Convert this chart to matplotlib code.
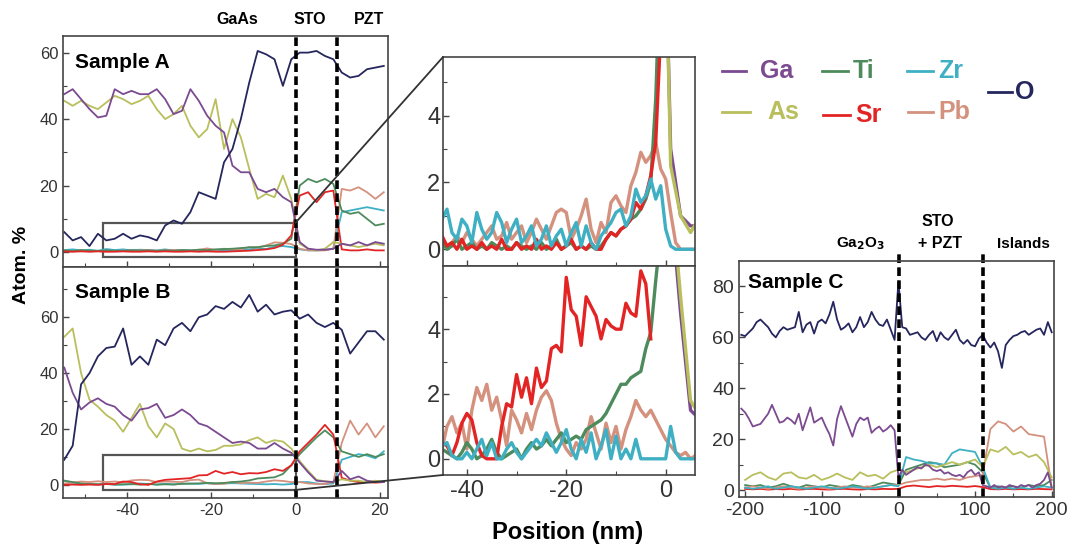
import numpy as np
import matplotlib.pyplot as plt
from matplotlib.patches import Rectangle, ConnectionPatch
from matplotlib.lines import Line2D

plt.rcParams['font.family'] = ['Liberation Sans', 'DejaVu Sans']
plt.rcParams['axes.unicode_minus'] = False

# element colours
c_ga = '#7b4a90'
c_as = '#b8bf5c'
c_ti = '#4d8b5d'
c_sr = '#e32424'
c_zr = '#3fb0c4'
c_pb = '#d4917e'
c_o = '#26265e'

# ---- sample A / B depth profiles (nm, atom. %) ----
x_ab = np.arange(-55, 23, 2)

ga_a = [47.5, 49, 46, 43, 40.5, 41, 49, 47.5, 48.5, 47.5,
        47.5, 49, 46, 41.5, 42.5, 49, 45.5, 41, 38, 36,
        26, 24, 24, 19, 18, 19, 16.5, 15, 3, 1,
        0.7, 0.7, 1, 2.5, 2, 3, 2, 3, 2.5]
as_a = [45.5, 44, 45.5, 44, 43, 45, 47, 46, 44.5, 45.5,
        47, 43, 40, 41.5, 44, 38, 34.5, 37, 46, 31,
        40, 34.5, 25, 16, 17.5, 16.5, 23, 16, 2.5, 1,
        0.5, 1, 3, 2.5, 2, 1.5, 2, 2.5, 2]
o_a = [6, 3.5, 4.5, 1.8, 5.5, 3.5, 4, 5.5, 4, 5,
       4.5, 3.5, 8, 9.5, 8.5, 12, 18, 17, 16, 27,
       31, 40, 51, 60.5, 59.5, 58, 50, 58, 60, 60,
       60.5, 59, 58, 54, 52.5, 53, 55, 55.5, 56]
ti_a = [0.5, 0.3, 0.6, 0.4, 0.3, 0.5, 0.4, 0.3, 0.6, 0.4,
        0.5, 0.3, 0.5, 0.4, 0.6, 0.5, 0.7, 0.6, 0.8, 0.9,
        1.0, 1.2, 1.4, 1.5, 1.8, 2.0, 2.5, 4.0, 20, 22,
        21, 22, 20.5, 12.5, 11.5, 12, 10, 8, 8.5]
sr_a = [0.2, 0.1, 0.2, 0.1, 0.2, 0.1, 0.1, 0.2, 0.1, 0.1,
        0.2, 0.1, 0.2, 0.1, 0.1, 0.2, 0.1, 0.2, 0.1, 0.1,
        0.2, 0.3, 0.4, 0.6, 0.8, 1.2, 2.2, 5, 17, 18,
        15, 18, 18.5, 0.8, 0.5, 0.5, 0.8, 0.5, 0.5]
zr_a = [0.6, 0.8, 0.5, 0.7, 0.4, 0.9, 0.6, 0.8, 0.5, 0.7,
        0.6, 0.5, 0.8, 0.4, 0.6, 0.5, 0.6, 0.4, 0.7, 0.5,
        0.4, 0.6, 0.8, 1.1, 0.9, 1.6, 1.8, 1.5, 0.8, 0.5,
        0.5, 0.6, 1.0, 12, 12.5, 13, 13.5, 13, 12.5]
pb_a = [0.3, 0.2, 0.4, 0.2, 0.3, 0.2, 0.3, 0.4, 0.3, 0.5,
        0.6, 0.4, 0.5, 0.6, 0.5, 0.4, 0.7, 1.1, 0.6, 1.0,
        0.8, 0.8, 1.5, 1.3, 2.0, 2.9, 2.8, 2.4, 1.0, 0.5,
        0.5, 0.5, 1.0, 19, 18.5, 19.5, 18, 16, 18]

o_b = [9, 14, 36, 40, 46, 49, 49.5, 56, 43, 46,
       43, 52, 50, 56, 58, 55, 60, 61, 64, 63,
       65.5, 63.5, 68, 62, 64.5, 61, 62, 62.5, 59.5, 61,
       58, 56.5, 58, 55.5, 47, 51, 55, 55, 52]
ga_b = [42, 33, 27, 29.5, 31, 29, 28, 25, 23, 27,
        27.5, 29, 24, 25, 27, 25, 22, 21, 19, 17,
        15, 15.5, 15, 13, 13, 15, 13, 11.5, 8, 4.5,
        1.5, 1.2, 1, 5, 2, 3, 1.5, 1, 1]
as_b = [53, 56, 40, 30.5, 28, 25, 23, 19, 24, 29,
        21, 17, 22, 20, 13, 12, 13, 12, 12.5, 14,
        14, 14.5, 16, 17, 15, 16, 15.5, 13, 8.5, 5,
        1.8, 1.3, 1, 2, 1.5, 1.5, 1, 1.5, 1]
ti_b = [1.5, 1.0, 0.5, 0.3, 0.2, 0.3, 0.1, 0.2, 0.3, 0.1,
        0.4, 0.1, 0.2, 0.1, 0.4, 0.4, 0.5, 0.7, 0.6, 0.7,
        1.0, 1.2, 1.6, 2.3, 2.5, 2.7, 3.9, 7, 11, 14,
        17, 19.5, 17, 12, 11, 10, 11, 10, 11]
sr_b = [0.0, 0.1, 0.0, 0.1, 0.0, 0.3, 0.3, 1.2, 1.0, 0.2,
        0.0, 1.2, 1.8, 2.0, 2.2, 2.4, 3.4, 3.5, 5.0, 4.0,
        4.6, 3.8, 4.2, 4.1, 4.6, 5.6, 5.0, 7, 12, 15,
        18, 21.5, 18, 2.5, 1.5, 1.0, 1.0, 0.8, 1.0]
zr_b = [1.5, 0.8, 0.4, 0.3, 0.2, 0.4, 0.1, 0.1, 0.2, 0.5,
        0.3, 0.1, 0.4, 0.2, 0.4, 0.5, 0.4, 0.6, 0.3, 0.5,
        0.6, 0.5, 0.4, 0.3, 0.2, 0.3, 0.1, 0.3, 1.0, 1.0,
        0.5, 0.3, 0.5, 9, 10, 11, 10.5, 9.5, 12]
pb_b = [0.5, 0.8, 1.2, 1.0, 1.3, 1.0, 1.2, 0.9, 1.6, 1.8,
        1.7, 1.0, 1.2, 1.1, 1.0, 1.7, 1.9, 0.6, 0.3, 0.4,
        1.0, 0.6, 0.8, 0.7, 1.2, 1.6, 1.4, 1.0, 1.0, 0.5,
        0.3, 0.3, 1.0, 15, 23, 18, 22, 17, 21]

# ---- fine profiles for the magnified windows ----
x_zoom = np.arange(-45, 7, 1)

zr_a_zoom = [0.9, 1.2, 0.5, 0.3, 0.9, 0.7, 0.2, 1.1, 0.6, 0.3,
             0.5, 1.1, 0.8, 0.2, 0.6, 0.9, 0.2, 0.4, 0.7, 0.1,
             0.3, 0.7, 0.1, 0.4, 0.6, 0.1, 0.5, 0.8, 0.1, 0.7,
             0.2, 0.0, 0.4, 0.6, 0.8, 1.1, 1.2, 0.7, 1.0, 1.8,
             1.4, 1.6, 2.1, 1.5, 1.9, 0.6, 0.1, 0.0, 0.0, 0.0,
             0.0, 0.0]
pb_a_zoom = [0.3, 0.1, 0.2, 0.4, 0.2, 0.5, 0.3, 0.1, 0.3, 0.5,
             0.7, 0.3, 0.4, 0.8, 0.3, 0.5, 0.7, 0.2, 0.5, 0.9,
             0.6, 0.3, 0.7, 1.1, 1.2, 1.1, 0.3, 0.6, 1.0, 1.5,
             0.6, 0.2, 0.8, 0.5, 1.4, 1.6, 1.3, 1.1, 1.9, 2.3,
             2.9, 2.6, 2.8, 3.2, 2.4, 2.1, 1.1, 0.2, 0.0, 0.0,
             0.0, 0.0]
sr_a_zoom = [0.4, 0.1, 0.2, 0.0, 0.3, 0.0, 0.1, 0.0, 0.2, 0.0,
             0.1, 0.0, 0.3, 0.0, 0.0, 0.2, 0.0, 0.1, 0.0, 0.3,
             0.0, 0.1, 0.0, 0.2, 0.0, 0.1, 0.3, 0.0, 0.1, 0.0,
             0.2, 0.0, 0.0, 0.3, 0.5, 0.4, 0.6, 0.7, 0.9, 1.4,
             1.2, 1.6, 2.2, 3.2, 6.5, 16, 18, 18, 18, 17,
             16, 18]
ti_a_zoom = [0.2, 0.0, 0.1, 0.3, 0.0, 0.1, 0.2, 0.0, 0.1, 0.0,
             0.2, 0.1, 0.0, 0.1, 0.0, 0.2, 0.1, 0.0, 0.1, 0.0,
             0.2, 0.0, 0.1, 0.3, 0.0, 0.1, 0.2, 0.0, 0.1, 0.0,
             0.1, 0.0, 0.1, 0.3, 0.5, 0.4, 0.6, 0.7, 0.9, 1.0,
             1.2, 1.5, 2.0, 4.5, 9, 18, 20, 21, 22, 21,
             20, 22]

nan = np.nan
sr_b_zoom = [0.5, 0.4, 0.1, 0.5, 1.1, 1.4, 1.2, 0.5, 0.1, 0.0,
             0.0, 0.0, 1.0, 1.7, 1.6, 2.6, 1.9, 2.5, 1.7, 2.8,
             2.2, 2.4, 3.4, 3.5, 3.3, 5.6, 4.6, 4.4, 3.5, 5.0,
             4.7, 4.4, 3.7, 4.3, 4.1, 4.0, 4.0, 4.8, 4.5, 4.4,
             5.8, 5.4, 3.7, nan, nan, nan, nan, nan, nan, nan,
             nan, nan]
ti_b_zoom = [0.3, 0.2, 0.1, 0.0, 0.2, 0.5, 0.3, 0.0, 0.1, 0.3,
             0.6, 0.2, 0.0, 0.1, 0.2, 0.3, 0.0, 0.3, 0.5, 0.3,
             0.4, 0.6, 0.4, 0.6, 0.8, 0.5, 0.6, 0.7, 0.6, 0.9,
             1.0, 1.1, 1.2, 1.4, 1.7, 2.0, 2.3, 2.3, 2.5, 2.6,
             2.7, 3.4, 3.9, 5.5, 7, 9, 12, 14, 16, 18,
             20, 21]
pb_b_zoom = [0.3, 1.0, 1.3, 0.8, 1.1, 0.3, 1.5, 2.2, 1.8, 2.3,
             1.5, 1.9, 1.2, 0.4, 1.5, 1.2, 0.8, 1.4, 0.9, 1.5,
             1.9, 2.1, 1.8, 1.1, 0.6, 0.3, 0.1, 0.5, 0.3, 0.6,
             1.3, 0.8, 0.3, 1.1, 0.5, 1.0, 0.3, 0.9, 1.3, 1.8,
             1.5, 1.3, 1.5, 1.2, 0.9, 0.6, 0.4, 0.2, 0.1, 0.2,
             0.0, 0.1]
zr_b_zoom = [0.4, 0.5, 0.1, 0.0, 0.0, 0.2, 0.0, 0.3, 0.6, 0.1,
             0.5, 0.0, 0.0, 0.3, 0.5, 0.2, 0.0, 0.2, 0.4, 0.6,
             0.4, 0.8, 0.5, 0.2, 0.5, 0.9, 0.3, 0.0, 0.6, 0.2,
             0.8, 0.0, 0.4, 0.9, 0.0, 0.7, 0.0, 0.3, 0.0, 0.6,
             0.0, 0.0, 0.0, 0.0, 0.0, 0.0, 1.0, 0.2, 0.0, 0.0,
             0.0, 0.0]

# ---- sample C ----
x_c5 = np.arange(-205, 201, 5)
x_c10 = np.arange(-200, 201, 10)

o_c = [61, 60.5, 62, 63.5, 66, 67, 65.5, 64, 61.5, 60,
       62.5, 64, 63, 63.5, 64, 70, 62, 65, 66, 61.5,
       66, 67, 65.5, 69, 74, 67, 63, 64, 65.5, 62,
       64, 68, 64, 66, 70, 67, 65, 64.5, 67, 63,
       59, 82, 64, 63.5, 61, 61.5, 62, 60, 59, 61,
       62.5, 58.5, 62, 60, 59, 61, 63, 59, 57.5, 59,
       57, 56.5, 59.5, 61, 58, 56, 58, 54.5, 48, 57,
       59, 60.5, 61, 62, 62.5, 61, 62, 63, 63.5, 61,
       66, 62]
ga_c = [32, 30.5, 28, 25, 25.5, 26, 28, 30, 33.5, 30,
        26.5, 27, 28.5, 27.5, 26, 30, 23.5, 28, 32.5, 26.5,
        27.5, 28.5, 25, 22, 17.5, 28, 33, 29, 25, 21,
        26, 28.5, 27.5, 28.5, 22.5, 24, 25, 23, 24, 25.5,
        23.5, 5, 8, 6, 7, 8, 9, 8.5, 10, 9.5,
        8, 7.5, 8, 6.5, 7, 6, 5.5, 6, 5, 7,
        8, 6, 7, 2, 1.5, 1, 2, 1, 1.5, 1,
        2, 1.5, 1, 2, 1.5, 2, 1, 2, 2.5, 4,
        7, 1]
as_c = [4, 6, 7, 5, 4, 6.5, 7, 5, 4.5, 6,
        4, 5, 6.5, 5, 4, 7, 5.5, 6, 4.5, 7,
        8, 7, 8, 9, 10, 9, 10, 11, 10, 11,
        12, 9, 16, 15, 17, 14, 15, 13, 14, 11,
        5]
pb_c = [1, 1.5, 1, 0.5, 1, 1.5, 1, 0.5, 1, 1.5,
        1, 0.5, 1, 1.5, 1, 1, 1.5, 1, 1.5, 2,
        2, 3, 3.5, 4, 4, 4.5, 4, 4.5, 4, 5,
        5.5, 6, 24, 27, 26, 23, 25, 22, 21.5, 21,
        1]
zr_c = [1, 0.5, 1, 1.5, 0.5, 1, 1.5, 1, 0.5, 1,
        1.5, 1, 0.5, 1, 1.5, 1, 0.5, 1, 1.5, 2,
        1.5, 13, 12, 11.5, 10.5, 10.5, 10, 14.5, 16, 15.5,
        15, 9, 1, 0.5, 1, 0.5, 1, 0.5, 1, 1.5,
        1]
ti_c = [2, 1.5, 2, 1, 1.5, 2.5, 1.5, 1, 2, 1.5,
        1, 2, 1.5, 1, 2, 1.5, 1, 2, 3, 2.5,
        2, 8, 9, 10, 11, 10.5, 9, 9.5, 10, 11,
        10, 7, 1, 1.5, 1, 1.5, 1, 2, 1.5, 2,
        4]
sr_c = [0.5, 0.3, 0.5, 0.2, 0.4, 0.3, 0.5, 0.2, 0.4, 0.5,
        0.3, 0.2, 0.4, 0.5, 0.3, 0.2, 0.4, 0.3, 0.5, 0.4,
        0.5, 1.5, 1.8, 1.5, 1.2, 1.6, 1.4, 1.7, 1.5, 1.3,
        1.6, 1.2, 0.4, 0.3, 0.5, 0.3, 0.4, 0.3, 0.5, 0.4,
        0.3]

W, H = 1076, 548
fig = plt.figure(figsize=(W / 100, H / 100), dpi=100)


def box(l, t, r, b):
    return [l / W, 1 - b / H, (r - l) / W, (b - t) / H]


def style(ax, size):
    for s in ax.spines.values():
        s.set_color('#444444')
        s.set_linewidth(1.2)
    ax.tick_params(which='both', direction='in', colors='#444444',
                   labelcolor='#333333', labelsize=size, top=False, right=False)
    ax.tick_params(which='major', length=4, width=1)
    ax.tick_params(which='minor', length=3, width=0.8)


axA = fig.add_axes(box(63, 36, 388, 267))
axB = fig.add_axes(box(63, 267, 388, 498))
axZ1 = fig.add_axes(box(443, 57, 695, 266))
axZ2 = fig.add_axes(box(443, 266, 695, 475))
axC = fig.add_axes(box(739, 261, 1054, 497))

lw = 1.3
for ax, d in [(axA, (ga_a, as_a, ti_a, sr_a, zr_a, pb_a, o_a)),
              (axB, (ga_b, as_b, ti_b, sr_b, zr_b, pb_b, o_b))]:
    ga, as_, ti, sr, zr, pb, o = d
    ax.plot(x_ab, zr, color=c_zr, lw=lw)
    ax.plot(x_ab, pb, color=c_pb, lw=lw)
    ax.plot(x_ab, ti, color=c_ti, lw=lw)
    ax.plot(x_ab, sr, color=c_sr, lw=lw)
    ax.plot(x_ab, as_, color=c_as, lw=lw)
    ax.plot(x_ab, ga, color=c_ga, lw=lw)
    ax.plot(x_ab, o, color=c_o, lw=lw)
    for xv in (0, 9.8):
        ax.axvline(xv, color='black', lw=2.6, ls=(0, (2.4, 1.2)))
    ax.set_xlim(-55.3, 22)
    ax.set_xticks([-40, -20, 0, 20])
    ax.set_xticks([-50, -30, -10, 10], minor=True)
    style(ax, 12)

axA.set_ylim(-4.5, 65)
axA.set_yticks([0, 20, 40, 60])
axA.set_yticks([10, 30, 50], minor=True)
axA.tick_params(labelbottom=False)
axA.add_patch(Rectangle((-45.7, -1.4), 45.7, 10.2, fill=False, ec='#555555', lw=1.6))

axB.set_ylim(-4.7, 78)
axB.set_yticks([0, 20, 40, 60])
axB.set_yticks([10, 30, 50, 70], minor=True)
axB.add_patch(Rectangle((-45.7, -1.8), 45.7, 12.5, fill=False, ec='#555555', lw=1.6))

zw = 2.4
for ax, d in [(axZ1, (zr_a_zoom, pb_a_zoom, ti_a_zoom, sr_a_zoom, ga_a, as_a)),
              (axZ2, (zr_b_zoom, pb_b_zoom, ti_b_zoom, sr_b_zoom, ga_b, as_b))]:
    zr, pb, ti, sr, ga, as_ = d
    ax.plot(x_ab, ga, color=c_ga, lw=zw)
    ax.plot(x_ab, as_, color=c_as, lw=zw)
    ax.plot(x_zoom, pb, color=c_pb, lw=zw)
    ax.plot(x_zoom, ti, color=c_ti, lw=zw)
    ax.plot(x_zoom, sr, color=c_sr, lw=zw)
    ax.plot(x_zoom, zr, color=c_zr, lw=zw)
    ax.set_xlim(-44.8, 5.9)
    ax.set_xticks([-40, -20, 0])
    ax.set_xticks([-30, -10], minor=True)
    ax.set_yticks([0, 2, 4])
    ax.set_yticks([1, 3, 5], minor=True)
    style(ax, 17)
    ax.tick_params(axis='y', pad=2)

axZ1.set_ylim(-0.5, 5.75)
axZ1.tick_params(labelbottom=False)
axZ2.set_ylim(-0.5, 5.95)

axC.plot(x_c10, sr_c, color=c_sr, lw=lw)
axC.plot(x_c10, ti_c, color=c_ti, lw=lw)
axC.plot(x_c10, pb_c, color=c_pb, lw=lw)
axC.plot(x_c10, zr_c, color=c_zr, lw=lw)
axC.plot(x_c10, as_c, color=c_as, lw=lw)
axC.plot(x_c5, ga_c, color=c_ga, lw=lw)
axC.plot(x_c5, o_c, color=c_o, lw=lw)
for xv in (1, 111):
    axC.plot([xv, xv], [0, 1.035], color='black', lw=2.6, ls=(0, (2.4, 1.2)),
             transform=axC.get_xaxis_transform(), clip_on=False)
axC.set_xlim(-208, 203)
axC.set_ylim(-2.7, 90)
axC.set_xticks([-200, -100, 0, 100, 200])
axC.set_xticks([-150, -50, 50, 150], minor=True)
axC.set_yticks([0, 20, 40, 60, 80])
axC.set_yticks([10, 30, 50, 70], minor=True)
style(axC, 14)

# connectors from the boxed regions to the magnified windows
for axs, xy, axz, corner in [(axA, (0, 8.8), axZ1, (0, 1)), (axB, (0, -1.8), axZ2, (0, 0))]:
    con = ConnectionPatch(xyA=xy, coordsA=axs.transData, xyB=corner,
                          coordsB=axz.transAxes, color='#333333', lw=1.3)
    fig.add_artist(con)


def ftext(x, y, s, **kw):
    fig.text(x / W, 1 - y / H, s, **kw)


ftext(237, 20, 'GaAs', fontsize=11.5, fontweight='bold', ha='center', va='center')
ftext(310, 20, 'STO', fontsize=11.5, fontweight='bold', ha='center', va='center')
ftext(369, 20, 'PZT', fontsize=11.5, fontweight='bold', ha='center', va='center')
ftext(75, 62, 'Sample A', fontsize=15, fontweight='bold', ha='left', va='center')
ftext(75, 292, 'Sample B', fontsize=15, fontweight='bold', ha='left', va='center')
ftext(748, 282, 'Sample C', fontsize=15, fontweight='bold', ha='left', va='center')
ftext(22, 265, 'Atom. %', fontsize=14, fontweight='bold', rotation=90, ha='center', va='center')
ftext(568, 533, 'Position (nm)', fontsize=17, fontweight='bold', ha='center', va='center')
ftext(860, 244, 'Ga$_\\mathbf{2}$O$_\\mathbf{3}$', fontsize=11, fontweight='bold', ha='center', va='center')
ftext(938, 222, 'STO', fontsize=11.5, fontweight='bold', ha='center', va='center')
ftext(940, 244, '+ PZT', fontsize=11.5, fontweight='bold', ha='center', va='center')
ftext(1023, 244, 'Islands', fontsize=11, fontweight='bold', ha='center', va='center')

# legend
legend_items = [('Ga', c_ga, 722, 746, 760, 71),
                ('Ti', c_ti, 822, 848, 853, 71),
                ('Zr', c_zr, 907, 933, 938, 71),
                ('As', c_as, 722, 750, 767, 112),
                ('Sr', c_sr, 823, 850, 855, 115),
                ('Pb', c_pb, 908, 933, 938, 112),
                ('O', c_o, 988, 1012, 1015, 92)]
for name, col, x0, x1, xt, y in legend_items:
    fig.add_artist(Line2D([x0 / W, x1 / W], [1 - y / H, 1 - y / H], color=col, lw=2))
    ftext(xt, y, name, fontsize=18, fontweight='bold', color=col, ha='left', va='center')

fig.savefig('out.png', dpi=100)
